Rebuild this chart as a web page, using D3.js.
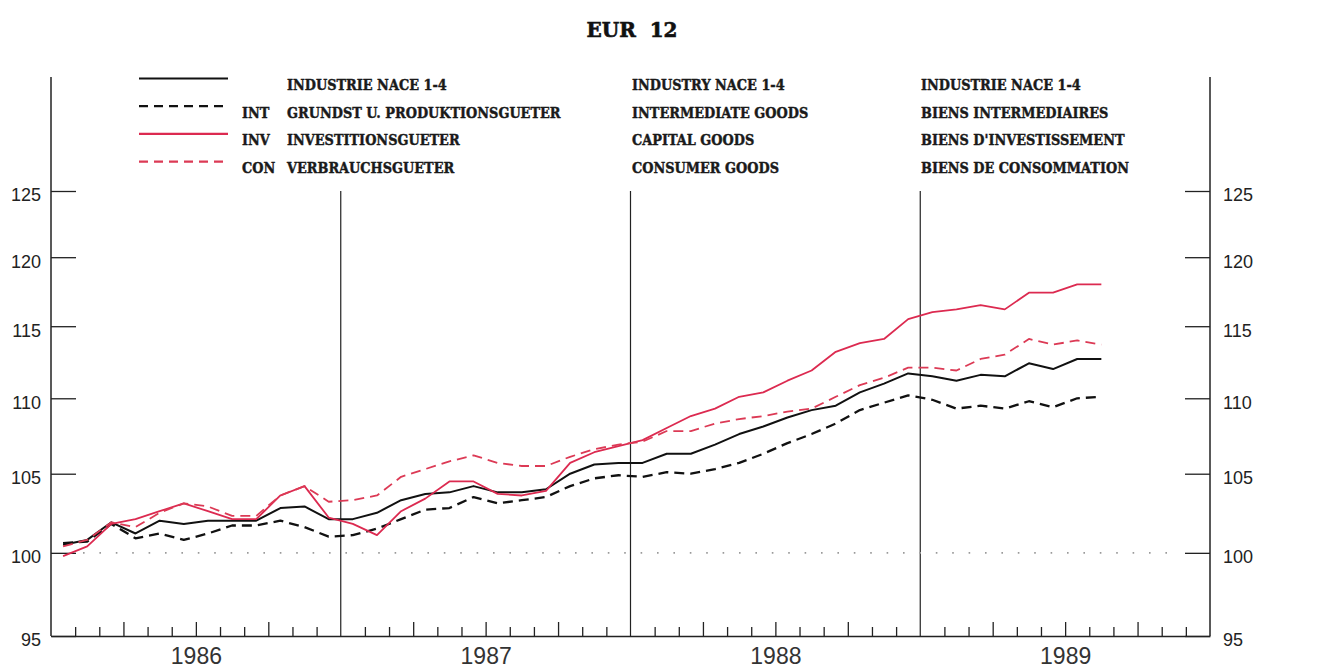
<!DOCTYPE html>
<html>
<head>
<meta charset="utf-8">
<script src="https://cdn.jsdelivr.net/npm/d3@7"></script>
<style>
  html, body { margin: 0; padding: 0; background: #ffffff; }
  svg { display: block; }
</style>
</head>
<body>
<svg id="chart" width="1323" height="668"></svg>
<script>
// ---------------- DATA ----------------
const months = [
  "1986-01","1986-02","1986-03","1986-04","1986-05","1986-06","1986-07","1986-08","1986-09","1986-10","1986-11","1986-12",
  "1987-01","1987-02","1987-03","1987-04","1987-05","1987-06","1987-07","1987-08","1987-09","1987-10","1987-11","1987-12",
  "1988-01","1988-02","1988-03","1988-04","1988-05","1988-06","1988-07","1988-08","1988-09","1988-10","1988-11","1988-12",
  "1989-01","1989-02","1989-03","1989-04","1989-05","1989-06","1989-07","1989-08"
];
// INDUSTRIE NACE 1-4 (total)
const industry = [
  100.5,100.8,101.9,101.2,102.0,101.8,102.0,102.0,102.0,102.8,102.9,102.1,
  102.1,102.5,103.3,103.7,103.8,104.2,103.8,103.8,104.0,105.0,105.6,105.7,
  105.7,106.3,106.3,106.9,107.6,108.1,108.7,109.2,109.5,110.4,111.0,111.7,
  111.5,111.2,111.6,111.5,112.4,112.0,112.7,112.7
];
// INT intermediate goods
const intermediate = [
  100.6,100.7,101.8,100.9,101.2,100.8,101.2,101.7,101.7,102.0,101.6,101.0,
  101.1,101.5,102.1,102.7,102.8,103.5,103.1,103.3,103.5,104.2,104.7,104.9,
  104.8,105.1,105.0,105.3,105.7,106.3,107.0,107.6,108.3,109.2,109.7,110.2,
  109.9,109.3,109.5,109.3,109.8,109.4,110.0,110.1
];
// INV capital goods
const capital = [
  99.8,100.4,101.8,102.1,102.6,103.1,102.6,102.1,102.1,103.6,104.2,102.2,
  101.8,101.1,102.6,103.4,104.5,104.5,103.7,103.6,103.9,105.7,106.4,106.8,
  107.2,108.0,108.8,109.3,110.1,110.4,111.2,111.9,113.2,113.8,114.1,115.5,
  116.0,116.2,116.5,116.2,117.4,117.4,118.0,118.0
];
// CON consumer goods
const consumer = [
  100.4,100.8,101.9,101.6,102.5,103.1,102.9,102.3,102.3,103.6,104.2,103.2,
  103.3,103.6,104.8,105.3,105.8,106.2,105.7,105.5,105.5,106.1,106.6,106.9,
  107.1,107.8,107.8,108.3,108.6,108.8,109.1,109.3,110.1,110.9,111.4,112.1,
  112.1,111.9,112.7,113.0,114.1,113.7,114.0,113.7
];
const years = ["1986","1987","1988","1989"];
const yTicks = [95,100,105,110,115,120,125];
const title = "EUR  12";
const legendCodes = ["", "INT", "INV", "CON"];
const legendDE = ["INDUSTRIE NACE 1-4","GRUNDST U. PRODUKTIONSGUETER","INVESTITIONSGUETER","VERBRAUCHSGUETER"];
const legendEN = ["INDUSTRY NACE 1-4","INTERMEDIATE GOODS","CAPITAL GOODS","CONSUMER GOODS"];
const legendFR = ["INDUSTRIE NACE 1-4","BIENS INTERMEDIAIRES","BIENS D'INVESTISSEMENT","BIENS DE CONSOMMATION"];

// ---------------- STYLES ----------------
const RED = "#dc2a50";
const RED_D = "#dc3a55";
const seriesDefs = [
  { values: industry,     color: "#111", width: 2.0, dash: null },
  { values: intermediate, color: "#111", width: 2.3, dash: "10,6" },
  { values: capital,      color: RED,    width: 1.8, dash: null },
  { values: consumer,     color: RED_D,  width: 1.8, dash: "10,6" }
];

// ---------------- SCALES ----------------
const svg = d3.select("#chart");
const pLeft = 51, pRight = 1210, pTop = 191, pBottom = 636;
const x = d3.scaleLinear().domain([1986, 1990]).range([pLeft, pRight]);
const y = d3.scaleLog().domain([95, 125]).range([pBottom, pTop]);
const t = m => { const [yy, mm] = m.split("-").map(Number); return yy + (mm - 0.5) / 12; };

const axisColor = "#222";

// Title
svg.append("text")
  .attr("x", 632).attr("y", 37)
  .attr("text-anchor", "middle")
  .attr("font-family", "DejaVu Serif, serif")
  .attr("font-weight", "bold")
  .attr("font-size", 20)
  .attr("fill", "#111")
  .attr("stroke", "#111").attr("stroke-width", 0.6)
  .style("white-space", "pre")
  .text(title);

// Left & right axis lines (extend above 125)
svg.append("line").attr("x1", pLeft).attr("x2", pLeft).attr("y1", 77).attr("y2", pBottom)
  .attr("stroke", axisColor).attr("stroke-width", 1.5);
svg.append("line").attr("x1", pRight).attr("x2", pRight).attr("y1", 77).attr("y2", pBottom)
  .attr("stroke", axisColor).attr("stroke-width", 1.5);

// Y axes
const yAxisL = d3.axisLeft(y).tickValues(yTicks).tickFormat(d3.format("d")).tickSize(-25).tickPadding(10);
const yAxisR = d3.axisRight(y).tickValues(yTicks).tickFormat(d3.format("d")).tickSize(-25).tickPadding(13);
function styleY(g) {
  g.select(".domain").remove();
  g.selectAll(".tick line").attr("stroke", axisColor).attr("stroke-width", 1.3);
  g.selectAll(".tick text")
    .attr("font-family", "Liberation Sans, Arial, sans-serif")
    .attr("font-size", 18)
    .attr("fill", "#222")
    .attr("dy", "0.55em");
}
svg.append("g").attr("transform", `translate(${pLeft},0)`).call(yAxisL).call(styleY);
svg.append("g").attr("transform", `translate(${pRight},0)`).call(yAxisR).call(styleY);

// Bottom axis: monthly ticks (short), quarterly ticks (taller)
const monthTicks = [], quarterTicks = [];
years.forEach(yr => {
  for (let k = 1; k < 12; k++) {
    const v = +yr + k / 12;
    if (k % 3 === 0) quarterTicks.push(v); else monthTicks.push(v);
  }
});
function styleX(g) {
  g.selectAll(".tick line").attr("stroke", axisColor).attr("stroke-width", 1.3);
  g.selectAll(".tick text").remove();
}
const xAxisBase = d3.axisBottom(x).tickValues(monthTicks).tickSize(-9).tickSizeOuter(0).tickFormat("");
svg.append("g").attr("transform", `translate(0,${pBottom})`).call(xAxisBase).call(styleX)
  .select(".domain").attr("stroke", axisColor).attr("stroke-width", 1.5);
const xAxisQ = d3.axisBottom(x).tickValues(quarterTicks).tickSize(-14).tickFormat("");
svg.append("g").attr("transform", `translate(0,${pBottom})`).call(xAxisQ).call(styleX)
  .select(".domain").remove();

// Year labels
const xAxisY = d3.axisBottom(x).tickValues(years.map(yy => +yy + 0.5)).tickSize(0).tickPadding(12)
  .tickFormat((d, i) => years[i]);
svg.append("g").attr("transform", `translate(0,${pBottom})`).call(xAxisY)
  .call(g => {
    g.select(".domain").remove();
    g.selectAll(".tick text")
      .attr("font-family", "Liberation Sans, Arial, sans-serif")
      .attr("font-size", 23)
      .attr("fill", "#333");
  });

// Year separator lines
svg.append("g").selectAll("line").data(years.slice(1)).join("line")
  .attr("x1", d => x(+d)).attr("x2", d => x(+d))
  .attr("y1", y(125)).attr("y2", pBottom)
  .attr("stroke", "#222").attr("stroke-width", 1.2);

// Dotted reference line at 100
svg.append("line")
  .attr("x1", x(1986) + 32).attr("x2", x(1990) - 30)
  .attr("y1", y(100)).attr("y2", y(100))
  .attr("stroke", "#9a9a9a").attr("stroke-width", 1.6)
  .attr("stroke-dasharray", "1.6,14.8");

// Series lines
const line = d3.line().x((d, i) => x(t(months[i]))).y(d => y(d));
seriesDefs.forEach(s => {
  svg.append("path")
    .datum(s.values)
    .attr("d", line)
    .attr("fill", "none")
    .attr("stroke", s.color)
    .attr("stroke-width", s.width)
    .attr("stroke-linejoin", "round")
    .attr("stroke-dasharray", s.dash);
});

// Legend
const legendBase = 90, legendStep = 27.7;
const legend = svg.append("g");
seriesDefs.forEach((s, i) => {
  const by = legendBase + i * legendStep;
  legend.append("line")
    .attr("x1", 139).attr("x2", 228)
    .attr("y1", by - 11.5).attr("y2", by - 11.5)
    .attr("stroke", s.color).attr("stroke-width", 2.2)
    .attr("stroke-dasharray", s.dash ? "9,6" : null);
});
function legendText(xp, arr) {
  arr.forEach((txt, i) => {
    if (!txt) return;
    const by = legendBase + i * legendStep;
    legend.append("text")
      .attr("transform", `translate(${xp},${by}) scale(0.86,1)`)
      .attr("font-family", "DejaVu Serif, serif")
      .attr("font-weight", "bold")
      .attr("font-size", 15)
      .attr("fill", "#1a1a1a")
      .attr("stroke", "#1a1a1a").attr("stroke-width", 0.45)
      .text(txt);
  });
}
legendText(242, legendCodes);
legendText(287, legendDE);
legendText(632, legendEN);
legendText(921, legendFR);
</script>
</body>
</html>
